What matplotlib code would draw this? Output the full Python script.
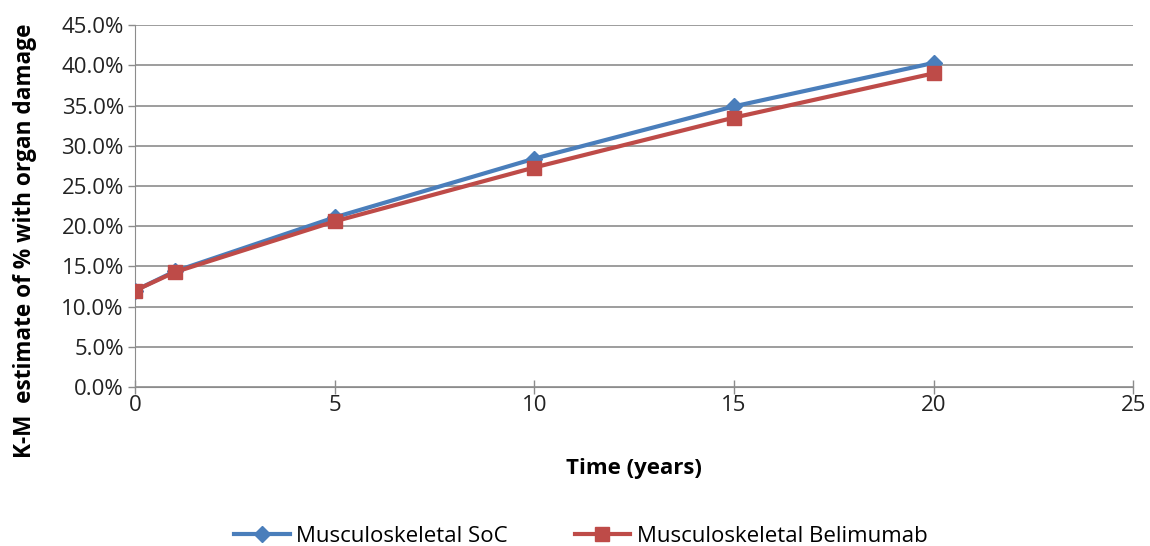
import matplotlib
matplotlib.use('Agg')
import matplotlib.pyplot as plt
from matplotlib.ticker import PercentFormatter

plt.rcParams['font.family'] = ['Open Sans', 'DejaVu Sans']

# time points (years) and K-M estimates (%)
years = [0, 1, 5, 10, 15, 20]
soc = [12.0, 14.4, 21.1, 28.4, 34.9, 40.3]
belimumab = [12.0, 14.3, 20.6, 27.3, 33.5, 39.0]

fig = plt.figure(figsize=(11.5, 5.46), dpi=100)
ax = fig.add_axes([0.1174, 0.291, 0.868, 0.663])

ax.plot(years, soc, color='#4a7ebb', lw=3, marker='D', ms=8,
        label='Musculoskeletal SoC', zorder=3)
ax.plot(years, belimumab, color='#be4b48', lw=3, marker='s', ms=10,
        label='Musculoskeletal Belimumab', zorder=4)

ax.set_xlim(0, 25)
ax.set_ylim(0, 45)
ax.set_xticks(range(0, 26, 5))
ax.set_yticks(range(0, 46, 5))
ax.yaxis.set_major_formatter(PercentFormatter(decimals=1))
ax.grid(axis='y', color='#8c8c8c', lw=1.2)
ax.set_axisbelow(True)

for side in ['top', 'right']:
    ax.spines[side].set_visible(False)
ax.spines['left'].set_color('#8c8c8c')
ax.spines['bottom'].set_color('#8c8c8c')
ax.tick_params(axis='both', colors='#8c8c8c', labelcolor='#222222',
               labelsize=16, length=5, width=1, pad=3)
ax.tick_params(axis='x', direction='inout', length=10, pad=1)

ax.set_xlabel('Time (years)', fontsize=16, fontweight='bold', labelpad=30)
ax.set_ylabel('K-M  estimate of % with organ damage', fontsize=16.3,
              fontweight='bold')
# excel puts the title a bit lower than the axis centre
ax.yaxis.set_label_coords(-0.098, 0.403)

fig.legend(loc='center', bbox_to_anchor=(0.505, 0.017), ncol=2,
           frameon=False, fontsize=16, handlelength=2.5, handletextpad=0.3,
           columnspacing=3)

fig.savefig('out.png', dpi=100)
